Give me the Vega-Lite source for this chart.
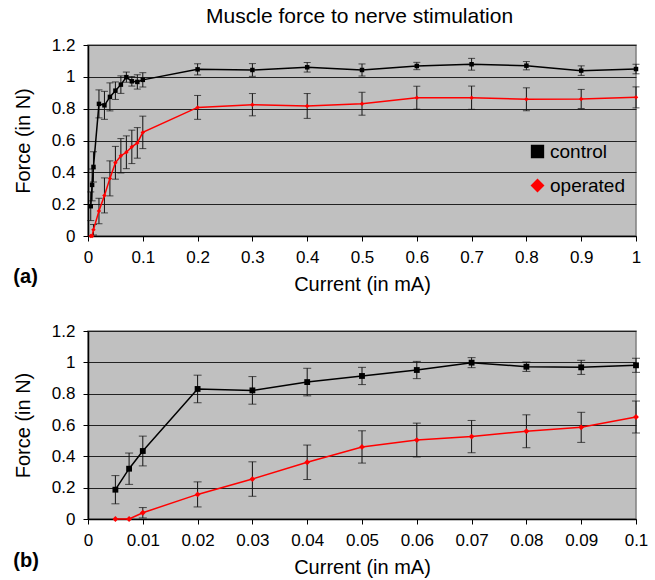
{
  "$schema": "https://vega.github.io/schema/vega-lite/v6.json",
  "background": "white",
  "padding": {"left": 12, "top": 6, "right": 5, "bottom": 5},
  "title": {"text": "Muscle force to nerve stimulation", "font": "Liberation Sans", "fontSize": 21, "fontWeight": "normal", "color": "#000", "anchor": "middle", "offset": 8, "dx": 29},
  "config": {
    "font": "Liberation Sans",
    "view": {"fill": "#c0c0c0", "stroke": "#808080", "strokeWidth": 1.5},
    "axis": {"labelFont": "Liberation Sans", "labelFontSize": 17, "labelColor": "#000", "labelOverlap": false, "titleFont": "Liberation Sans", "titleFontSize": 20, "titleFontWeight": "normal", "titleColor": "#000", "domainColor": "#000", "domainWidth": 1.5, "tickColor": "#000", "tickSize": 5, "gridColor": "#222", "gridOpacity": 1, "gridWidth": 1, "tickCount": 12},
    "axisX": {"grid": false, "labelPadding": 8, "titlePadding": 9, "labelFlush": false},
    "axisY": {"labelPadding": 8, "titlePadding": 18}
  },
  "spacing": 26,
  "resolve": {"scale": {"color": "independent", "shape": "independent"}, "legend": {"color": "independent", "shape": "independent"}},
  "datasets": {
    "d": [
      {"series": "control", "current": 0.005, "force": 0.187, "err": 0.09},
      {"series": "control", "current": 0.0075, "force": 0.321, "err": 0.1},
      {"series": "control", "current": 0.01, "force": 0.434, "err": 0.095},
      {"series": "control", "current": 0.02, "force": 0.83, "err": 0.088},
      {"series": "control", "current": 0.03, "force": 0.821, "err": 0.088},
      {"series": "control", "current": 0.04, "force": 0.874, "err": 0.088},
      {"series": "control", "current": 0.05, "force": 0.913, "err": 0.055},
      {"series": "control", "current": 0.06, "force": 0.951, "err": 0.055},
      {"series": "control", "current": 0.07, "force": 0.998, "err": 0.032},
      {"series": "control", "current": 0.08, "force": 0.972, "err": 0.03},
      {"series": "control", "current": 0.09, "force": 0.968, "err": 0.045},
      {"series": "control", "current": 0.1, "force": 0.981, "err": 0.045},
      {"series": "control", "current": 0.2, "force": 1.047, "err": 0.035},
      {"series": "control", "current": 0.3, "force": 1.043, "err": 0.04},
      {"series": "control", "current": 0.4, "force": 1.06, "err": 0.03},
      {"series": "control", "current": 0.5, "force": 1.043, "err": 0.038},
      {"series": "control", "current": 0.6, "force": 1.068, "err": 0.023},
      {"series": "control", "current": 0.7, "force": 1.079, "err": 0.037},
      {"series": "control", "current": 0.8, "force": 1.07, "err": 0.026},
      {"series": "control", "current": 0.9, "force": 1.039, "err": 0.03},
      {"series": "control", "current": 1.0, "force": 1.049, "err": 0.03},
      {"series": "operated", "current": 0.005, "force": 0, "err": 0},
      {"series": "operated", "current": 0.0075, "force": 0, "err": 0},
      {"series": "operated", "current": 0.01, "force": 0.04, "err": 0.033},
      {"series": "operated", "current": 0.02, "force": 0.157, "err": 0.08},
      {"series": "operated", "current": 0.03, "force": 0.255, "err": 0.11},
      {"series": "operated", "current": 0.04, "force": 0.362, "err": 0.11},
      {"series": "operated", "current": 0.05, "force": 0.46, "err": 0.103},
      {"series": "operated", "current": 0.06, "force": 0.504, "err": 0.108},
      {"series": "operated", "current": 0.07, "force": 0.526, "err": 0.103},
      {"series": "operated", "current": 0.08, "force": 0.56, "err": 0.105},
      {"series": "operated", "current": 0.09, "force": 0.585, "err": 0.096},
      {"series": "operated", "current": 0.1, "force": 0.651, "err": 0.102},
      {"series": "operated", "current": 0.2, "force": 0.808, "err": 0.075},
      {"series": "operated", "current": 0.3, "force": 0.825, "err": 0.07},
      {"series": "operated", "current": 0.4, "force": 0.817, "err": 0.078},
      {"series": "operated", "current": 0.5, "force": 0.831, "err": 0.072},
      {"series": "operated", "current": 0.6, "force": 0.869, "err": 0.072},
      {"series": "operated", "current": 0.7, "force": 0.869, "err": 0.073},
      {"series": "operated", "current": 0.8, "force": 0.859, "err": 0.072},
      {"series": "operated", "current": 0.9, "force": 0.861, "err": 0.06},
      {"series": "operated", "current": 1.0, "force": 0.871, "err": 0.066}
    ]
  },
  "vconcat": [
    {
      "width": 548,
      "height": 191,
      "title": {"text": "(a)", "orient": "bottom", "anchor": "start", "frame": "bounds", "fontSize": 20, "fontWeight": "bold", "color": "#000", "offset": 0, "dy": -27},
      "data": {"name": "d"},
      "layer": [
        {
          "transform": [{"filter": "datum.err > 0"}],
          "mark": {"type": "errorbar", "color": "#111", "thickness": 1, "ticks": {"size": 7, "thickness": 1, "color": "#111"}},
          "encoding": {
            "x": {"field": "current", "type": "quantitative", "scale": {"domain": [0, 1], "nice": false}, "axis": {"title": "Current (in mA)", "values": [0, 0.1, 0.2, 0.3, 0.4, 0.5, 0.6, 0.7, 0.8, 0.9, 1], "format": "~g"}},
            "y": {"field": "force", "type": "quantitative", "scale": {"domain": [0, 1.2], "nice": false}, "axis": {"title": "Force (in N)", "values": [0, 0.2, 0.4, 0.6, 0.8, 1, 1.2], "format": "~g"}},
            "yError": {"field": "err"},
            "detail": {"field": "series", "type": "nominal"}
          }
        },
        {
          "mark": {"type": "line", "strokeWidth": 1.5},
          "encoding": {
            "x": {"field": "current", "type": "quantitative"},
            "y": {"field": "force", "type": "quantitative"},
            "color": {"field": "series", "type": "nominal", "scale": {"domain": ["control", "operated"], "range": ["#000000", "#ff0000"]}, "legend": {"title": null, "orient": "none", "legendX": 440, "legendY": 97, "labelFontSize": 19, "labelColor": "#000", "symbolSize": 140, "rowPadding": 14, "labelOffset": 3, "padding": 0, "symbolOpacity": 1}}
          }
        },
        {
          "mark": {"type": "point", "filled": true, "opacity": 1, "size": 20},
          "encoding": {
            "x": {"field": "current", "type": "quantitative"},
            "y": {"field": "force", "type": "quantitative"},
            "color": {"field": "series", "type": "nominal", "scale": {"domain": ["control", "operated"], "range": ["#000000", "#ff0000"]}, "legend": {"title": null, "orient": "none", "legendX": 440, "legendY": 97, "labelFontSize": 19, "labelColor": "#000", "symbolSize": 140, "rowPadding": 14, "labelOffset": 3, "padding": 0, "symbolOpacity": 1}},
            "shape": {"field": "series", "type": "nominal", "scale": {"domain": ["control", "operated"], "range": ["square", "diamond"]}, "legend": {"title": null, "orient": "none", "legendX": 440, "legendY": 97, "labelFontSize": 19, "labelColor": "#000", "symbolSize": 140, "rowPadding": 14, "labelOffset": 3, "padding": 0, "symbolOpacity": 1}}
          }
        }
      ]
    },
    {
      "width": 548,
      "height": 188,
      "title": {"text": "(b)", "orient": "bottom", "anchor": "start", "frame": "bounds", "fontSize": 20, "fontWeight": "bold", "color": "#000", "offset": 0, "dy": -26},
      "data": {"name": "d"},
      "transform": [{"filter": "datum.current <= 0.1"}],
      "layer": [
        {
          "transform": [{"filter": "datum.err > 0"}],
          "mark": {"type": "errorbar", "color": "#111", "thickness": 1, "ticks": {"size": 8, "thickness": 1, "color": "#111"}},
          "encoding": {
            "x": {"field": "current", "type": "quantitative", "scale": {"domain": [0, 0.1], "nice": false}, "axis": {"title": "Current (in mA)", "values": [0, 0.01, 0.02, 0.03, 0.04, 0.05, 0.06, 0.07, 0.08, 0.09, 0.1], "format": "~g"}},
            "y": {"field": "force", "type": "quantitative", "scale": {"domain": [0, 1.2], "nice": false}, "axis": {"title": "Force (in N)", "values": [0, 0.2, 0.4, 0.6, 0.8, 1, 1.2], "format": "~g"}},
            "yError": {"field": "err"},
            "detail": {"field": "series", "type": "nominal"}
          }
        },
        {
          "mark": {"type": "line", "strokeWidth": 1.5},
          "encoding": {
            "x": {"field": "current", "type": "quantitative"},
            "y": {"field": "force", "type": "quantitative"},
            "color": {"field": "series", "type": "nominal", "scale": {"domain": ["control", "operated"], "range": ["#000000", "#ff0000"]}, "legend": null}
          }
        },
        {
          "mark": {"type": "point", "filled": true, "opacity": 1, "size": 34},
          "encoding": {
            "x": {"field": "current", "type": "quantitative"},
            "y": {"field": "force", "type": "quantitative"},
            "color": {"field": "series", "type": "nominal", "scale": {"domain": ["control", "operated"], "range": ["#000000", "#ff0000"]}, "legend": null},
            "shape": {"field": "series", "type": "nominal", "scale": {"domain": ["control", "operated"], "range": ["square", "diamond"]}, "legend": null}
          }
        }
      ]
    }
  ]
}
